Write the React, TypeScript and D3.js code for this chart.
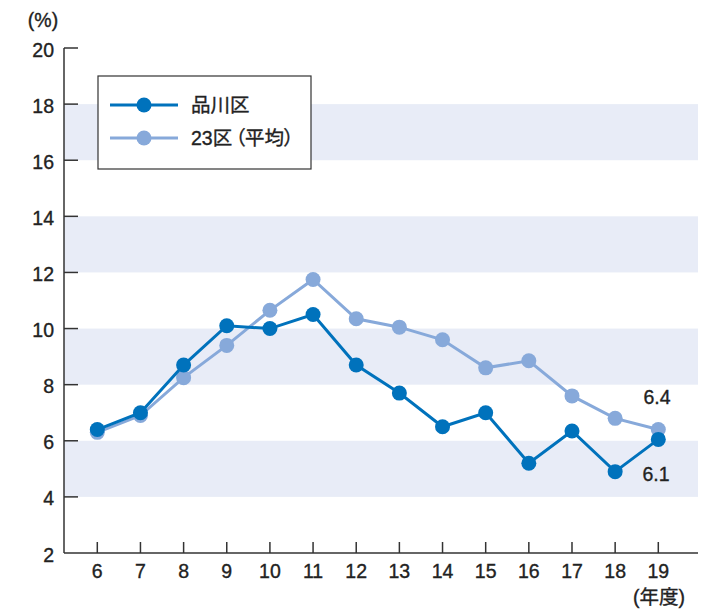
import React from "react";
import * as d3 from "d3";

const years = [6, 7, 8, 9, 10, 11, 12, 13, 14, 15, 16, 17, 18, 19];
const shinagawa = [6.4, 7.0, 8.7, 10.1, 10.0, 10.5, 8.7, 7.7, 6.5, 7.0, 5.2, 6.35, 4.9, 6.05];
const ku23 = [6.3, 6.9, 8.25, 9.4, 10.65, 11.75, 10.35, 10.05, 9.6, 8.6, 8.85, 7.6, 6.8, 6.4];
const yTicks = [2, 4, 6, 8, 10, 12, 14, 16, 18, 20];
const bands = [[4, 6], [8, 10], [12, 14], [16, 18]];
const seriesNames = ["品川区", "23区"];
const seriesSuffix = ["", "（平均）"];
const endLabels = ["6.4", "6.1"];

const W = 719, H = 611;
const DARK = "#0072bc";
const LIGHT = "#87a9da";
const BAND = "#e8ecf7";
const AXIS = "#333";
const TXT = "#222";
const FONT = "'Liberation Sans', Arial, sans-serif";
const CJK = "'Liberation Sans', 'Noto Sans CJK JP', sans-serif";
const FS = 19.5;
const palt = { fontFeatureSettings: '"palt"' } as React.CSSProperties;
const bold = { stroke: TXT, strokeWidth: 0.35 } as const;

export default function App() {
  const x = d3.scaleLinear().domain([6, 19]).range([97.3, 658.3]);
  const y = d3.scaleLinear().domain([2, 20]).range([553, 48]);
  const line = d3.line<number>().x((_, i) => x(years[i])).y((d) => y(d));
  const x0 = 64, x1 = 698;

  return (
    <svg width={W} height={H} style={{ position: "absolute", left: 0, top: 0 }} fontFamily={FONT}>
      {bands.map(([a, b], i) => (
        <rect key={i} x={x0} y={y(b)} width={x1 - x0} height={y(a) - y(b)} fill={BAND} />
      ))}
      {/* axes */}
      <line x1={x0} y1={y(20)} x2={x0} y2={y(2)} stroke={AXIS} strokeWidth={1.5} />
      <line x1={x0} y1={y(2)} x2={x1} y2={y(2)} stroke={AXIS} strokeWidth={1.5} />
      {yTicks.map((t) => (
        <g key={t}>
          {t > 2 && <line x1={x0} x2={x0 + 14} y1={y(t)} y2={y(t)} stroke={AXIS} strokeWidth={1.5} />}
          <text x={54} y={y(t) + 8.5} textAnchor="end" fontSize={FS} fill={TXT} {...bold}>{t}</text>
        </g>
      ))}
      {years.map((yr) => (
        <g key={yr}>
          <line x1={x(yr)} x2={x(yr)} y1={y(2)} y2={y(2) - 11} stroke={AXIS} strokeWidth={1.5} />
          <text x={x(yr)} y={578} textAnchor="middle" fontSize={FS} fill={TXT} {...bold}>{yr}</text>
        </g>
      ))}
      <text x={43} y={27} textAnchor="middle" fontSize={FS} fill={TXT} fontFamily={CJK} style={palt} {...bold}>(%)</text>
      <text x={659} y={604} textAnchor="middle" fontSize={FS} fill={TXT} fontFamily={CJK} style={palt} {...bold}>(年度)</text>

      {/* 23区 */}
      <path d={line(ku23) || ""} fill="none" stroke={LIGHT} strokeWidth={3} />
      {ku23.map((v, i) => (
        <circle key={i} cx={x(years[i])} cy={y(v)} r={7.5} fill={LIGHT} />
      ))}
      {/* 品川区 */}
      <path d={line(shinagawa) || ""} fill="none" stroke={DARK} strokeWidth={3} />
      {shinagawa.map((v, i) => (
        <circle key={i} cx={x(years[i])} cy={y(v)} r={7.5} fill={DARK} />
      ))}

      <text x={657} y={404} textAnchor="middle" fontSize={FS} fill={TXT} {...bold}>{endLabels[0]}</text>
      <text x={656} y={480.5} textAnchor="middle" fontSize={FS} fill={TXT} {...bold}>{endLabels[1]}</text>

      {/* legend */}
      <rect x={98} y={76} width={213} height={93} fill="#fff" stroke="#333" strokeWidth={1.2} />
      {[DARK, LIGHT].map((c, i) => {
        const ly = 105 + i * 33;
        return (
          <g key={i}>
            <line x1={110} x2={178} y1={ly} y2={ly} stroke={c} strokeWidth={3} />
            <circle cx={144} cy={ly} r={7.5} fill={c} />
            <text x={191} y={ly + 7} fontSize={FS} fill={TXT} fontFamily={CJK} style={palt} {...bold}>
              {seriesNames[i]}
              {seriesSuffix[i] && <tspan dx={3}>{seriesSuffix[i]}</tspan>}
            </text>
          </g>
        );
      })}
    </svg>
  );
}
